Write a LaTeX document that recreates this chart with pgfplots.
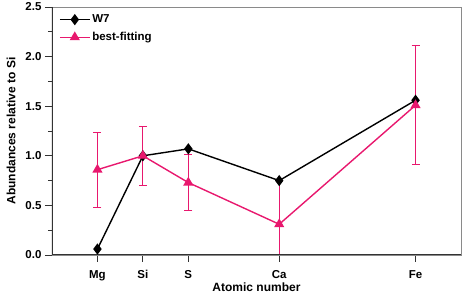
\documentclass[border=0pt]{standalone}
\usepackage{fontspec}
\setmainfont{Liberation Sans}
\usepackage{pgfplots}
\pgfplotsset{compat=1.18}
\definecolor{pinkc}{HTML}{E8186E}
\definecolor{framec}{HTML}{8A8A8A}
\definecolor{axc}{HTML}{333333}
\begin{document}
\begin{tikzpicture}[font=\bfseries]
\begin{axis}[name=ax, scale only axis, width=409pt, height=248pt,
  xmin=10, xmax=28, ymin=0, ymax=2.5,
  xtick={12,14,16,20,26}, xticklabels={Mg,Si,S,Ca,Fe},
  ytick={0,0.5,...,2.5}, minor y tick num=1,
  /pgf/number format/assume math mode=true,
  yticklabel style={/pgf/number format/fixed, /pgf/number format/precision=1, /pgf/number format/fixed zerofill},
  ticklabel style={font=\bfseries\fontsize{11.5}{13}\selectfont},
  xticklabel style={yshift=-5pt},
  tick align=outside, tick pos=left,
  major tick length=7pt, minor tick length=4pt,
  tick style={axc, line width=0.8pt},
  axis line style={framec, line width=0.8pt},
  xlabel={Atomic number}, ylabel={Abundances relative to Si},
  label style={font=\bfseries\fontsize{12}{14}\selectfont},
  xlabel style={yshift=4.5pt},
  ylabel style={yshift=3pt},
  legend style={at={(rel axis cs:0.01,0.985)}, anchor=north west, draw=none, fill=none,
    font=\bfseries\fontsize{11.5}{13}\selectfont, row sep=4pt},
  legend cell align=left,
  legend image code/.code={\draw[#1, line width=1pt] (0cm,0cm) -- (30pt,0cm); \draw[#1, only marks] plot coordinates {(15pt,0cm)};},
  clip=true,
]
\addplot[black, line width=1.4pt, mark=diamond*, mark size=4.5pt, mark options={solid}]
  coordinates {(12,0.06) (14,1.0) (16,1.07) (20,0.75) (26,1.56)};
\addlegendentry{W7}
\addplot[pinkc, line width=1.4pt, mark=triangle*, mark size=4.5pt,
  error bars/.cd, y dir=both, y explicit,
  error bar style={pinkc, line width=0.9pt},
  error mark options={rotate=90, pinkc, mark size=4pt, line width=0.9pt}]
  coordinates {(12,0.86) +- (0,0.38) (14,1.0) +- (0,0.30) (16,0.73) +- (0,0.28) (20,0.31) +- (0,0.44) (26,1.51) +- (0,0.60)};
\addlegendentry{best-fitting}
\draw[axc, line width=1.3pt] (rel axis cs:0,1) -- (rel axis cs:0,0) -- (rel axis cs:1,0);
\end{axis}
\pgfresetboundingbox
\path ([shift={(-52pt,-39pt)}]ax.south west) rectangle ([shift={(2pt,7pt)}]ax.north east);
\end{tikzpicture}
\end{document}
